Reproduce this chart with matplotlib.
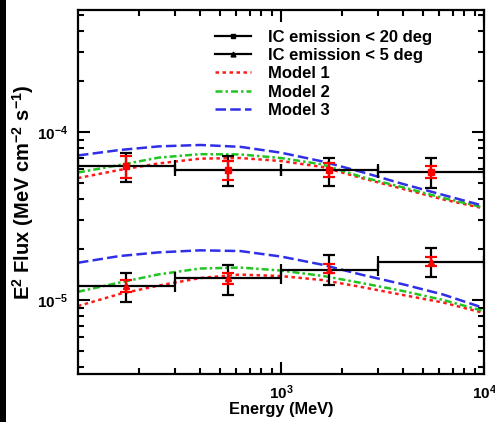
import matplotlib
matplotlib.use('Agg')
import matplotlib.pyplot as plt
from matplotlib.lines import Line2D
from matplotlib.patches import Rectangle
from matplotlib.ticker import FixedLocator, LogLocator, NullFormatter, FixedFormatter

plt.rcParams['font.family'] = ['Liberation Sans', 'DejaVu Sans']
plt.rcParams['font.weight'] = 'bold'
plt.rcParams['mathtext.fontset'] = 'custom'
plt.rcParams['mathtext.rm'] = 'Liberation Sans:bold'
plt.rcParams['mathtext.bf'] = 'Liberation Sans:bold'
plt.rcParams['mathtext.it'] = 'Liberation Sans:bold'
plt.rcParams['mathtext.sf'] = 'Liberation Sans:bold'
plt.rcParams['mathtext.default'] = 'regular'

# ---------------- data ----------------
bin_lo = [100, 300, 1000, 3000]
bin_hi = [300, 1000, 3000, 10000]
bin_center = [173, 548, 1732, 5477]

# IC emission < 20 deg
flux20 = [6.27e-5, 5.94e-5, 5.90e-5, 5.81e-5]
tot_lo20 = [5.06e-5, 4.79e-5, 4.79e-5, 4.62e-5]
tot_hi20 = [7.47e-5, 7.20e-5, 7.03e-5, 6.98e-5]
stat_lo20 = [5.30e-5, 5.18e-5, 5.42e-5, 5.30e-5]
stat_hi20 = [7.20e-5, 6.72e-5, 6.57e-5, 6.30e-5]

# IC emission < 5 deg
flux5 = [1.21e-5, 1.35e-5, 1.51e-5, 1.69e-5]
tot_lo5 = [9.8e-6, 1.07e-5, 1.23e-5, 1.37e-5]
tot_hi5 = [1.45e-5, 1.62e-5, 1.85e-5, 2.03e-5]
stat_lo5 = [1.12e-5, 1.25e-5, 1.44e-5, 1.59e-5]
stat_hi5 = [1.32e-5, 1.45e-5, 1.64e-5, 1.81e-5]

# model curves
model_E = [100, 160, 250, 400, 630, 1000, 1600, 2500, 4000, 6300, 10000]
m1_20 = [5.32e-5, 5.94e-5, 6.50e-5, 6.94e-5, 7.00e-5, 6.72e-5, 6.19e-5, 5.32e-5, 4.58e-5, 3.97e-5, 3.51e-5]
m2_20 = [5.74e-5, 6.36e-5, 7.04e-5, 7.38e-5, 7.35e-5, 7.00e-5, 6.41e-5, 5.40e-5, 4.68e-5, 4.05e-5, 3.55e-5]
m3_20 = [7.25e-5, 7.81e-5, 8.21e-5, 8.37e-5, 8.16e-5, 7.53e-5, 6.68e-5, 5.78e-5, 4.90e-5, 4.22e-5, 3.63e-5]
m1_5 = [9.21e-6, 1.086e-5, 1.220e-5, 1.352e-5, 1.418e-5, 1.389e-5, 1.315e-5, 1.195e-5, 1.071e-5, 9.66e-6, 8.37e-6]
m2_5 = [1.120e-5, 1.271e-5, 1.422e-5, 1.540e-5, 1.561e-5, 1.498e-5, 1.393e-5, 1.262e-5, 1.131e-5, 1.0e-5, 8.60e-6]
m3_5 = [1.667e-5, 1.827e-5, 1.922e-5, 1.976e-5, 1.957e-5, 1.815e-5, 1.622e-5, 1.414e-5, 1.240e-5, 1.078e-5, 8.96e-6]

legend_labels = ['IC emission < 20 deg', 'IC emission < 5 deg', 'Model 1', 'Model 2', 'Model 3']
x_tick_vals = [1e3, 1e4]
x_tick_labels = ['$10^{3}$', '$10^{4}$']
y_tick_vals = [1e-5, 1e-4]
y_tick_labels = ['$10^{-5}$', '$10^{-4}$']

# ---------------- figure ----------------
W, H = 495, 422
fig = plt.figure(figsize=(W / 100, H / 100), dpi=100)
ax = fig.add_axes([78 / W, (H - 374) / H, (484 - 78) / W, (374 - 10) / H])
fig.patches.append(Rectangle((0, 0), 6 / W, 1, transform=fig.transFigure,
                             facecolor='black', edgecolor='none'))

RED = '#ff1a1a'
GREEN = '#22c422'
BLUE = '#2f2fe8'
lw = 1.8
LS1 = (0, (1.4, 1.4))
LS2 = (0, (2.8, 1.2, 1, 1.2))
LS3 = (0, (4.2, 1.7))

ax.plot(model_E, m1_20, color=RED, ls=LS1, lw=lw, zorder=2)
ax.plot(model_E, m2_20, color=GREEN, ls=LS2, lw=lw, zorder=2)
ax.plot(model_E, m3_20, color=BLUE, ls=LS3, lw=lw, zorder=2)
ax.plot(model_E, m1_5, color=RED, ls=LS1, lw=lw, zorder=2)
ax.plot(model_E, m2_5, color=GREEN, ls=LS2, lw=lw, zorder=2)
ax.plot(model_E, m3_5, color=BLUE, ls=LS3, lw=lw, zorder=2)


def draw_series(flux, tlo, thi, slo, shi, marker):
    xerr = [[c - lo for c, lo in zip(bin_center, bin_lo)],
            [hi - c for c, hi in zip(bin_center, bin_hi)]]
    yerr = [[f - l for f, l in zip(flux, tlo)], [h - f for f, h in zip(flux, thi)]]
    ax.errorbar(bin_center, flux, xerr=xerr, yerr=yerr, fmt=marker, color='black',
                ms=3.5, elinewidth=1.6, capsize=4, capthick=1.6, zorder=3)
    serr = [[f - l for f, l in zip(flux, slo)], [h - f for f, h in zip(flux, shi)]]
    ax.errorbar(bin_center, flux, yerr=serr, fmt=marker, color='red',
                ms=4, elinewidth=1.6, capsize=4, capthick=1.6, zorder=4)


draw_series(flux20, tot_lo20, tot_hi20, stat_lo20, stat_hi20, 's')
draw_series(flux5, tot_lo5, tot_hi5, stat_lo5, stat_hi5, '^')

ax.set_xscale('log')
ax.set_yscale('log')
ax.set_xlim(100, 1e4)
ax.set_ylim(3.63e-6, 5.32e-4)

ax.xaxis.set_major_locator(FixedLocator(x_tick_vals))
ax.xaxis.set_major_formatter(FixedFormatter(x_tick_labels))
ax.xaxis.set_minor_locator(LogLocator(base=10, subs=range(2, 10), numticks=20))
ax.xaxis.set_minor_formatter(NullFormatter())
ax.yaxis.set_major_locator(FixedLocator(y_tick_vals))
ax.yaxis.set_major_formatter(FixedFormatter(y_tick_labels))
ax.yaxis.set_minor_locator(LogLocator(base=10, subs=range(2, 10), numticks=20))
ax.yaxis.set_minor_formatter(NullFormatter())

ax.tick_params(which='both', direction='in', top=True, right=True, width=1.5,
               labelsize=11)
ax.tick_params(which='major', length=8.5, pad=7)
ax.tick_params(which='minor', length=4.5)
for s in ax.spines.values():
    s.set_linewidth(1.6)

ax.set_xlabel('Energy (MeV)', fontsize=11.8, fontweight='bold', labelpad=0)
ax.set_ylabel('E$^{2}$ Flux (MeV cm$^{-2}$ s$^{-1}$)', fontsize=14.5, fontweight='bold',
              labelpad=1)

handles = [
    Line2D([], [], color='black', marker='s', ms=3.5, lw=1.6),
    Line2D([], [], color='black', marker='^', ms=3.5, lw=1.6),
    Line2D([], [], color=RED, ls=LS1, lw=lw),
    Line2D([], [], color=GREEN, ls=LS2, lw=lw),
    Line2D([], [], color=BLUE, ls=LS3, lw=lw),
]
ax.legend(handles, legend_labels, loc='upper left', bbox_to_anchor=(0.337, 0.946),
          frameon=False, handlelength=2.2, handletextpad=1.0,
          labelspacing=0.2, borderpad=0, borderaxespad=0,
          prop={'weight': 'bold', 'size': 12})

fig.savefig('out.png', dpi=100)
